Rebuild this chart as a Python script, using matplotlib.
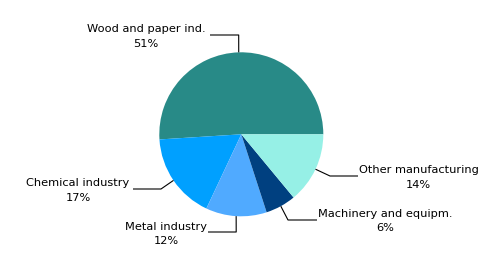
import numpy as np
import matplotlib
matplotlib.use("Agg")
from matplotlib import pyplot as plt

# shares of the industries, in per cent
LABELS = ["Wood and paper ind.", "Chemical industry", "Metal industry",
          "Machinery and equipm.", "Other manufacturing"]
SHARES = [51, 17, 12, 6, 14]
COLORS = ["#288A87", "#00A0FF", "#50AAFF", "#004080", "#96F0E6"]

W, H = 483, 268
CX, CY, R = 241.3, 134.3, 82

# leader line elbow, line end and label centre, in pixel coords (y down)
ELBOWS = [(238.7, 35), (161, 189), (236.2, 232), (288, 220), (330, 176)]
ENDS = [(210, 35), (133, 189), (208, 232), (317, 220), (358, 176)]
TEXT_POS = [(146, 36.5), (78, 190.5), (166, 234), (385, 221), (418.5, 177.5)]

fig = plt.figure(figsize=(W / 100, H / 100), dpi=100)
ax = fig.add_axes([0, 0, 1, 1])

wedges, _ = ax.pie(SHARES, colors=COLORS, startangle=0, counterclock=True,
                   center=(CX, H - CY), radius=R, frame=True,
                   wedgeprops=dict(linewidth=0))
ax.set_xlim(0, W)
ax.set_ylim(0, H)
ax.axis("off")

for w, lab, share, elb, end, tp in zip(wedges, LABELS, SHARES, ELBOWS, ENDS, TEXT_POS):
    mid = np.deg2rad((w.theta1 + w.theta2) / 2)
    ax_x = CX + R * np.cos(mid)
    ax_y = (H - CY) + R * np.sin(mid)
    xs = [ax_x, elb[0], end[0]]
    ys = [ax_y, H - elb[1], H - end[1]]
    ax.plot(xs, ys, color="black", lw=0.8, solid_capstyle="butt")
    ax.text(tp[0], H - tp[1], f"{lab}\n{share}%", ha="center", va="center",
            fontsize=8.2, family="DejaVu Sans", linespacing=1.55)

fig.savefig("out.png", dpi=100)
